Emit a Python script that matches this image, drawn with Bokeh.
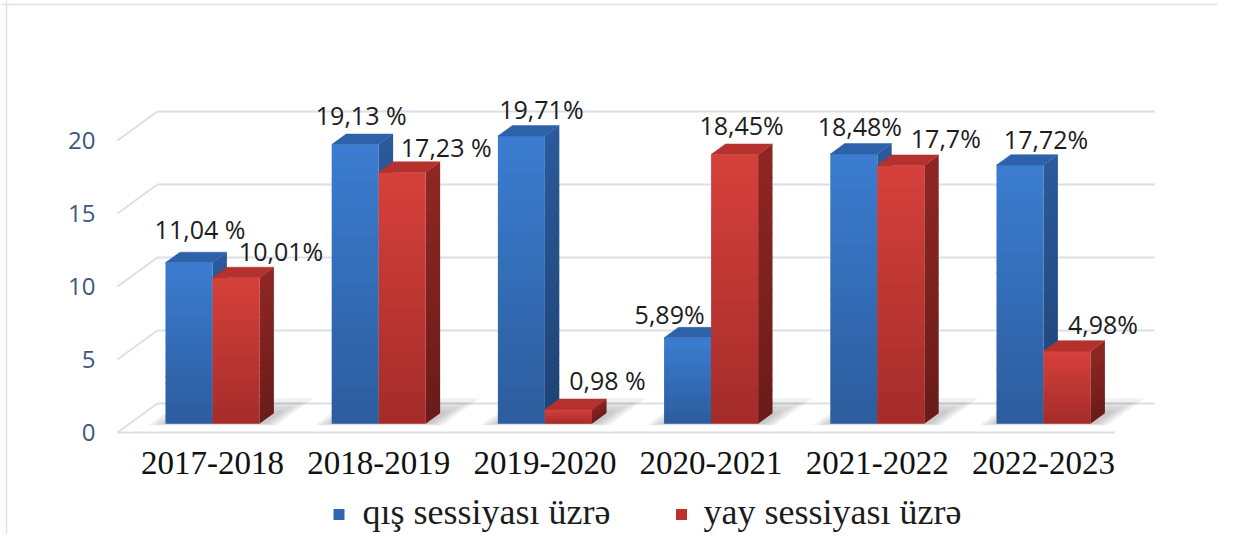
import numpy as np
from bokeh.plotting import figure
from bokeh.models import Range1d, Span
from bokeh.core.properties import value
from bokeh.embed import file_html
from bokeh.resources import INLINE

# ---------------- data ----------------
categories = ["2017-2018", "2018-2019", "2019-2020", "2020-2021", "2021-2022", "2022-2023"]
winter = [11.04, 19.13, 19.71, 5.89, 18.48, 17.72]
summer = [10.01, 17.23, 0.98, 18.45, 17.70, 4.98]
winter_labels = ["11,04 %", "19,13 %", "19,71%", "5,89%", "18,48%", "17,72%"]
summer_labels = ["10,01%", "17,23 %", "0,98 %", "18,45%", "17,7%", "4,98%"]
y_ticks = [0, 5, 10, 15, 20]
series_names = ["qış sessiyası üzrə", "yay sessiyası üzrə"]

# label nudges (px: right, up) relative to bar top-front centre
winter_nudge_x = [11, 6, 20, -18, 6, 26]
winter_nudge_y = [34, 30, 27, 24, 28, 26]
summer_nudge_x = [45, 44, 39, 7, 45, 36]
summer_nudge_y = [27, 25, 29, 29, 27, 27]

# ---------------- geometry / style ----------------
W, H = 1217, 534
XU = 166.2     # px per category
YU = 14.6      # px per value unit
X0 = 200       # px (from left) of category 0 on the front plane
Y0 = H - 432   # px (from bottom) of value 0 on the front plane
DXP, DYP = 40.0, 29.0   # full depth offset in px (right, up)
ZF, ZB = 0.30, 0.66     # bar front/back depth
BW = 47.0 / XU          # bar width in category units


def dx(z):
    return z * DXP / XU


def dy(z):
    return z * DYP / YU


def sx_(px):   # screen px from left -> data x
    return (px - X0) / XU


def sy_(py):   # screen px from top -> data y
    return (H - py - Y0) / YU


def hex2rgb(h):
    h = h.lstrip("#")
    return np.array([int(h[i:i + 2], 16) for i in (0, 2, 4)], dtype=float)


def lerp(c0, c1, t):
    c = hex2rgb(c0) * (1 - t) + hex2rgb(c1) * t
    return "#%02x%02x%02x" % tuple(int(round(v)) for v in c)


STYLE = {
    0: dict(front=("#2c5c9d", "#3b7dd1"), side=("#1e4374", "#2a5a9a"), top="#2d62aa"),
    1: dict(front=("#a42c29", "#d6403b"), side=("#6a1b19", "#8f2723"), top="#b5312d"),
}

p = figure(width=W, height=H, output_backend="svg", toolbar_location=None,
           x_range=Range1d(sx_(0), sx_(W)),
           y_range=Range1d(sy_(H), sy_(0)),
           min_border=0, x_axis_location=None, y_axis_location=None)
p.xgrid.visible = False
p.ygrid.visible = False
p.outline_line_color = None
p.background_fill_color = "white"
p.border_fill_color = "white"

# frame lines (left, top)
p.add_layout(Span(location=sx_(6), dimension="height", line_color="#dde2e8", line_width=1.5))
p.add_layout(Span(location=sy_(4), dimension="width", line_color="#dde2e8", line_width=1.5))

n = len(categories)
xl, xr = -0.5, n - 0.5

# ---------------- gridlines / walls ----------------
gx, gy = [], []
for v in y_ticks:
    gx.append([xl + dx(1), xr + dx(1)]); gy.append([v + dy(1), v + dy(1)])
    gx.append([xl, xl + dx(1)]);          gy.append([v, v + dy(1)])
gx.append([xl, xr]); gy.append([0, 0])
p.multi_line(gx, gy, line_color="#d9e0e8", line_width=2)

# ---------------- shadows ----------------
shx, shy = [], []
for i in range(n):
    for e in (3, 7, 11, 15):
        l = i - BW - e / XU
        r = i + BW + (e + 4) / XU
        zf = ZF - 0.1 * e / DYP
        zb = ZB + e / DYP
        shx.append([l + dx(zf), r + dx(zf), r + dx(zb), l + dx(zb)])
        shy.append([dy(zf), dy(zf), dy(zb), dy(zb)])
p.patches(shx, shy, fill_color="#000000", fill_alpha=0.055, line_color=None)

# ---------------- 3D bars ----------------
NS = 24
OV = 0.8 / YU   # small overlap between gradient strips
for s, vals in enumerate([winter, summer]):
    st = STYLE[s]
    fl, fr, fb, ft, fc = [], [], [], [], []
    side_x, side_y, side_c = [], [], []
    top_x, top_y = [], []
    for i, v in enumerate(vals):
        x0 = i - BW + s * BW
        x1 = x0 + BW
        xf0, xf1 = x0 + dx(ZF), x1 + dx(ZF)
        xb0, xb1 = x0 + dx(ZB), x1 + dx(ZB)
        yf, yb = dy(ZF), dy(ZB)
        for k in range(NS):
            f0, f1 = k / NS, (k + 1) / NS
            t = (k + 0.5) / NS
            ov = OV if k < NS - 1 else 0.0
            fl.append(xf0); fr.append(xf1)
            fb.append(v * f0 + yf); ft.append(v * f1 + yf + ov)
            fc.append(lerp(st["front"][0], st["front"][1], t))
            side_x.append([xf1, xf1, xb1, xb1])
            side_y.append([v * f0 + yf, v * f1 + yf + ov, v * f1 + yb + ov, v * f0 + yb])
            side_c.append(lerp(st["side"][0], st["side"][1], t))
        top_x.append([xf0, xf1, xb1, xb0])
        top_y.append([v + yf, v + yf, v + yb, v + yb])
    p.patches(side_x, side_y, fill_color=side_c, line_color=None)
    p.quad(left=fl, right=fr, bottom=fb, top=ft, fill_color=fc, line_color=None)
    p.patches(top_x, top_y, fill_color=st["top"], line_color=st["top"], line_width=0.5)

# ---------------- value labels ----------------
lab_x, lab_y, lab_t = [], [], []
for s, (vals, labs, nx, ny) in enumerate([(winter, winter_labels, winter_nudge_x, winter_nudge_y),
                                          (summer, summer_labels, summer_nudge_x, summer_nudge_y)]):
    for i, v in enumerate(vals):
        cx = i - BW + s * BW + BW / 2 + dx(ZF)
        lab_x.append(cx + nx[i] / XU)
        lab_y.append(v + dy(ZF) + ny[i] / YU)
        lab_t.append(labs[i])
p.text(x=lab_x, y=lab_y, text=lab_t, text_font=value("Open Sans"), text_font_size="25px",
       text_color="#1c1c1c", text_align="center", text_baseline="middle")

# ---------------- y tick labels ----------------
p.text(x=[xl - 22 / XU] * len(y_ticks), y=y_ticks, text=[str(t) for t in y_ticks],
       text_font=value("Open Sans"), text_font_size="24px", text_color="#3e5780",
       text_align="right", text_baseline="middle")

# ---------------- category labels ----------------
p.text(x=[i + dx(ZF) for i in range(n)], y=[-30 / YU] * n, text=categories,
       text_font=value("Liberation Serif"), text_font_size="33px", text_color="#111111",
       text_align="center", text_baseline="middle")

# ---------------- legend ----------------
colors = ["#2f66b0", "#c0302c"]
p.rect(x=[sx_(338.5), sx_(681)], y=[sy_(514)] * 2,
       width=11, height=11, width_units="screen", height_units="screen",
       fill_color=colors, line_color=None)
p.text(x=[sx_(362), sx_(703)], y=[sy_(511)] * 2, text=series_names,
       text_font=value("Liberation Serif"), text_font_size="36px", text_color="#1c1c1c",
       text_align="left", text_baseline="middle")

open("out.html", "w").write(file_html(p, INLINE))
